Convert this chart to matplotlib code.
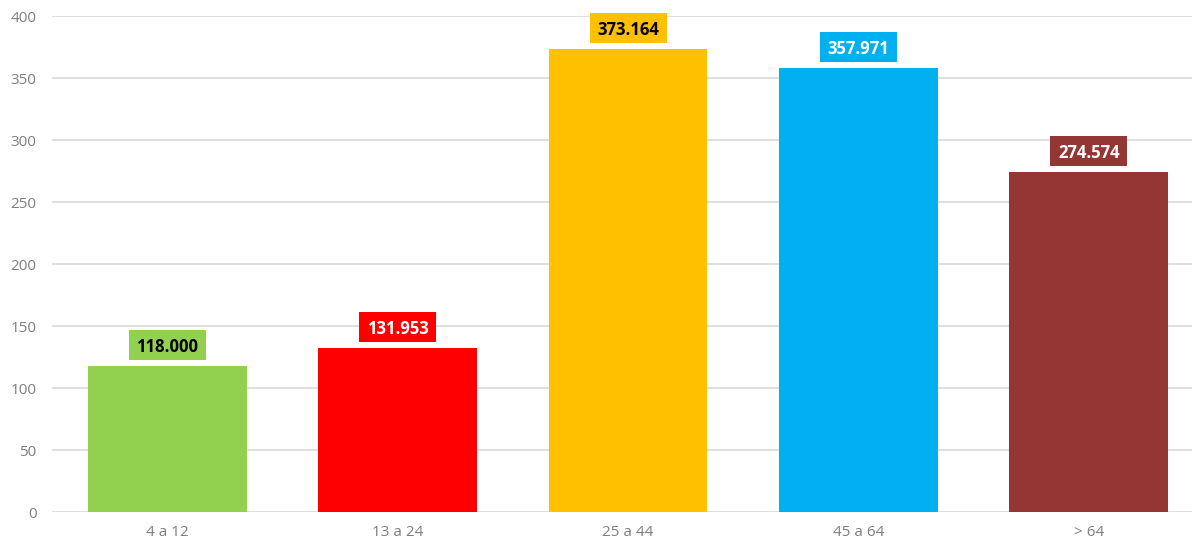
import matplotlib
matplotlib.use("Agg")
import matplotlib.pyplot as plt
from matplotlib.patches import Rectangle

categories = ["4 a 12", "13 a 24", "25 a 44", "45 a 64", "> 64"]
values = [118.000, 131.953, 373.164, 357.971, 274.574]
labels = ["118.000", "131.953", "373.164", "357.971", "274.574"]
colors = ["#92D050", "#FF0000", "#FFC000", "#00B0F0", "#943634"]
text_colors = ["black", "white", "black", "white", "white"]
yticks = [0, 50, 100, 150, 200, 250, 300, 350, 400]

plt.rcParams['font.family'] = ['Open Sans', 'DejaVu Sans']

W, H, DPI = 1192, 547, 100
fig = plt.figure(figsize=(W / DPI, H / DPI), dpi=DPI)
left_px, right_px, bottom_px, top_px = 52, 1204, 512, 16
ax = fig.add_axes([left_px / W, (H - bottom_px) / H,
                   (right_px - left_px) / W, (bottom_px - top_px) / H])

x = list(range(len(categories)))
ax.bar(x, values, width=0.69, color=colors, zorder=2)
ax.set_xlim(-0.5, len(categories) - 0.5)
ax.set_ylim(0, 400)
ax.set_yticks(yticks)
ax.set_xticks(x)
ax.set_xticklabels(categories)
ax.yaxis.grid(True, color="#d9d9d9", linewidth=1.2, zorder=0)
ax.set_axisbelow(True)
for s in ax.spines.values():
    s.set_visible(False)
ax.tick_params(axis="both", length=0, labelsize=11, labelcolor="#7f7f7f")
ax.tick_params(axis="y", pad=11)
ax.tick_params(axis="x", pad=9)

# data units per pixel
ax_h_px = bottom_px - top_px
upp = 400 / ax_h_px
cat_px = (right_px - left_px) / len(categories)
box_w = 77 / cat_px
gap = 6 * upp
box_h = 30 * upp
for i, (v, lab, c, tc) in enumerate(zip(values, labels, colors, text_colors)):
    ax.add_patch(Rectangle((i - box_w / 2, v + gap), box_w, box_h,
                           facecolor=c, edgecolor="none", zorder=3, clip_on=False))
    ax.text(i, v + gap + box_h / 2, lab, ha="center", va="center_baseline",
            fontsize=12, fontweight="bold", color=tc, zorder=4)

fig.savefig("out.png", dpi=DPI)
